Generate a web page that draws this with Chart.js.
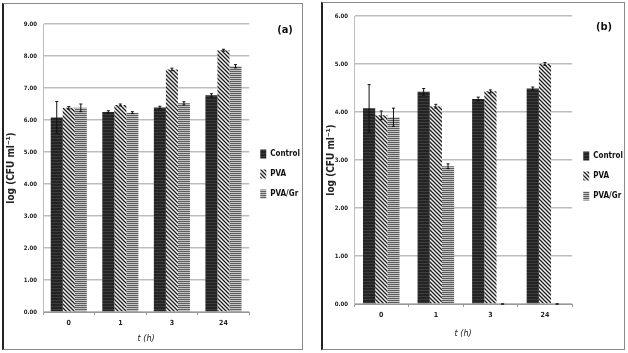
<!DOCTYPE html>
<html>
<head>
<meta charset="utf-8">
<script src="https://cdn.jsdelivr.net/npm/chart.js@4/dist/chart.umd.min.js"></script>
<style>
  body { margin: 0; background: #fff; width: 628px; height: 353px; position: relative; overflow: hidden; }
  .panel { position: absolute; box-sizing: border-box; border: 1px solid #8a8a8a; border-left: 2px solid #222; }
  #panelA { left: 2px; top: 3px; width: 301px; height: 347px; }
  #panelB { left: 321px; top: 2px; width: 304px; height: 348px; }
  canvas { position: absolute; }
  #chartA { left: 3px; top: 4px; }
  #chartB { left: 323px; top: 3px; }
</style>
</head>
<body>
<div class="panel" id="panelA"></div>
<div class="panel" id="panelB"></div>
<canvas id="chartA" width="299" height="344"></canvas>
<canvas id="chartB" width="301" height="346"></canvas>
<script>
const timeLabels = ["0", "1", "3", "24"];
const seriesNames = ["Control", "PVA", "PVA/Gr"];

// panel (a)
const controlA = [6.08, 6.25, 6.39, 6.77];
const controlErrA = [0.5, 0.04, 0.04, 0.05];
const pvaA = [6.38, 6.47, 7.58, 8.18];
const pvaErrA = [0.04, 0.03, 0.04, 0.03];
const pvaGrA = [6.38, 6.23, 6.52, 7.68];
const pvaGrErrA = [0.12, 0.03, 0.05, 0.05];

// panel (b)
const controlB = [4.08, 4.42, 4.27, 4.49];
const controlErrB = [0.49, 0.07, 0.04, 0.03];
const pvaB = [3.93, 4.12, 4.43, 5.0];
const pvaErrB = [0.09, 0.04, 0.03, 0.03];
const pvaGrB = [3.89, 2.87, 0, 0];
const pvaGrErrB = [0.19, 0.05, 0, 0];

const FONT = "'DejaVu Sans Condensed', sans-serif";

function makePattern(kind) {
  const c = document.createElement("canvas");
  const ctx = c.getContext("2d");
  if (kind === "dark") {
    c.width = 4; c.height = 3;
    ctx.fillStyle = "#242424";
    ctx.fillRect(0, 0, 4, 3);
    ctx.fillStyle = "#3c3c3c";
    ctx.fillRect(0, 2, 4, 1);
  } else if (kind === "diag") {
    c.width = 4; c.height = 4;
    ctx.fillStyle = "#f4f4f4";
    ctx.fillRect(0, 0, 4, 4);
    ctx.strokeStyle = "#1e1e1e";
    ctx.lineWidth = 1.3;
    ctx.beginPath();
    ctx.moveTo(-1, -1); ctx.lineTo(5, 5);
    ctx.moveTo(-1, 3); ctx.lineTo(1, 5);
    ctx.moveTo(3, -1); ctx.lineTo(5, 1);
    ctx.stroke();
  } else {
    c.width = 4; c.height = 2;
    ctx.fillStyle = "#c4c4c4";
    ctx.fillRect(0, 0, 4, 2);
    ctx.fillStyle = "#5e5e5e";
    ctx.fillRect(0, 1, 4, 1);
  }
  return ctx.createPattern(c, "repeat");
}

const fills = [makePattern("dark"), makePattern("diag"), makePattern("horiz")];

const errorBars = {
  id: "errorBars",
  afterDatasetsDraw(chart) {
    const ctx = chart.ctx;
    const y = chart.scales.y;
    ctx.save();
    ctx.strokeStyle = "#111";
    ctx.lineWidth = 1;
    chart.data.datasets.forEach((ds, i) => {
      const meta = chart.getDatasetMeta(i);
      meta.data.forEach((bar, j) => {
        const v = ds.data[j];
        const e = ds.errors[j];
        const top = y.getPixelForValue(v + e);
        const bot = y.getPixelForValue(v - e);
        ctx.beginPath();
        ctx.moveTo(bar.x, top); ctx.lineTo(bar.x, bot);
        ctx.moveTo(bar.x - 1.5, top); ctx.lineTo(bar.x + 1.5, top);
        ctx.moveTo(bar.x - 1.5, bot); ctx.lineTo(bar.x + 1.5, bot);
        ctx.stroke();
      });
    });
    ctx.restore();
  }
};

const panelTag = {
  id: "panelTag",
  afterDraw(chart, args, opts) {
    const ctx = chart.ctx;
    ctx.save();
    ctx.fillStyle = "#111";
    ctx.font = "bold 11px " + FONT;
    ctx.textAlign = "center";
    ctx.textBaseline = "middle";
    ctx.fillText(opts.text, opts.x, opts.y);
    ctx.restore();
  }
};

function buildChart(id, cfg) {
  const datasets = [cfg.control, cfg.pva, cfg.pvaGr].map((data, i) => ({
    label: seriesNames[i],
    data: data,
    errors: cfg.errors[i],
    backgroundColor: fills[i],
    borderWidth: 0,
    barPercentage: 1,
    categoryPercentage: cfg.catPct,
  }));

  return new Chart(document.getElementById(id), {
    type: "bar",
    data: { labels: timeLabels, datasets: datasets },
    plugins: [errorBars, panelTag],
    options: {
      responsive: false,
      animation: false,
      layout: { padding: cfg.padding },
      plugins: {
        tooltip: { enabled: false },
        panelTag: cfg.tag,
        legend: {
          position: "right",
          align: "start",
          title: { display: true, text: " ", padding: { top: cfg.legendOffset, bottom: 0 } },
          labels: {
            color: "#111",
            boxWidth: 6,
            boxHeight: 9,
            padding: 11,
            font: { family: FONT, size: 8, weight: "bold" },
          },
        },
      },
      scales: {
        x: {
          afterFit: (s) => { s.height = cfg.xHeight; },
          grid: { drawOnChartArea: false, drawTicks: true, tickLength: 3, color: "#999" },
          border: { color: "#999" },
          ticks: { color: "#222", padding: 4, font: { family: FONT, size: 7, weight: "bold" } },
          title: {
            display: true,
            text: "t (h)",
            color: "#222",
            padding: { top: 3, bottom: 0 },
            font: { family: FONT, size: 9, style: "italic" },
          },
        },
        y: {
          min: 0,
          max: cfg.max,
          afterFit: (s) => { s.width = cfg.yWidth; },
          grid: { color: "#bdbdbd", lineWidth: 1.5, drawTicks: false },
          border: { color: "#bdbdbd" },
          ticks: {
            stepSize: 1,
            color: "#222",
            padding: 6,
            font: { family: FONT, size: 6, weight: "bold" },
            callback: (v) => Number(v).toFixed(2),
          },
          title: {
            display: true,
            text: "log (CFU ml⁻¹)",
            color: "#222",
            padding: { top: 0, bottom: 3 },
            font: { family: FONT, size: 10, weight: "bold" },
          },
        },
      },
    },
  });
}

buildChart("chartA", {
  control: controlA, pva: pvaA, pvaGr: pvaGrA,
  errors: [controlErrA, pvaErrA, pvaGrErrA],
  max: 9,
  catPct: 0.7,
  padding: { left: 2, top: 20, right: -8, bottom: 4 },
  yWidth: 38,
  xHeight: 32,
  legendOffset: 100,
  tag: { text: "(a)", x: 282, y: 26 },
});

buildChart("chartB", {
  control: controlB, pva: pvaB, pvaGr: pvaGrB,
  errors: [controlErrB, pvaErrB, pvaGrErrB],
  max: 6,
  catPct: 0.67,
  padding: { left: 2, top: 13, right: -9, bottom: 10 },
  yWidth: 29,
  xHeight: 35,
  legendOffset: 110,
  tag: { text: "(b)", x: 281, y: 24 },
});
</script>
</body>
</html>
